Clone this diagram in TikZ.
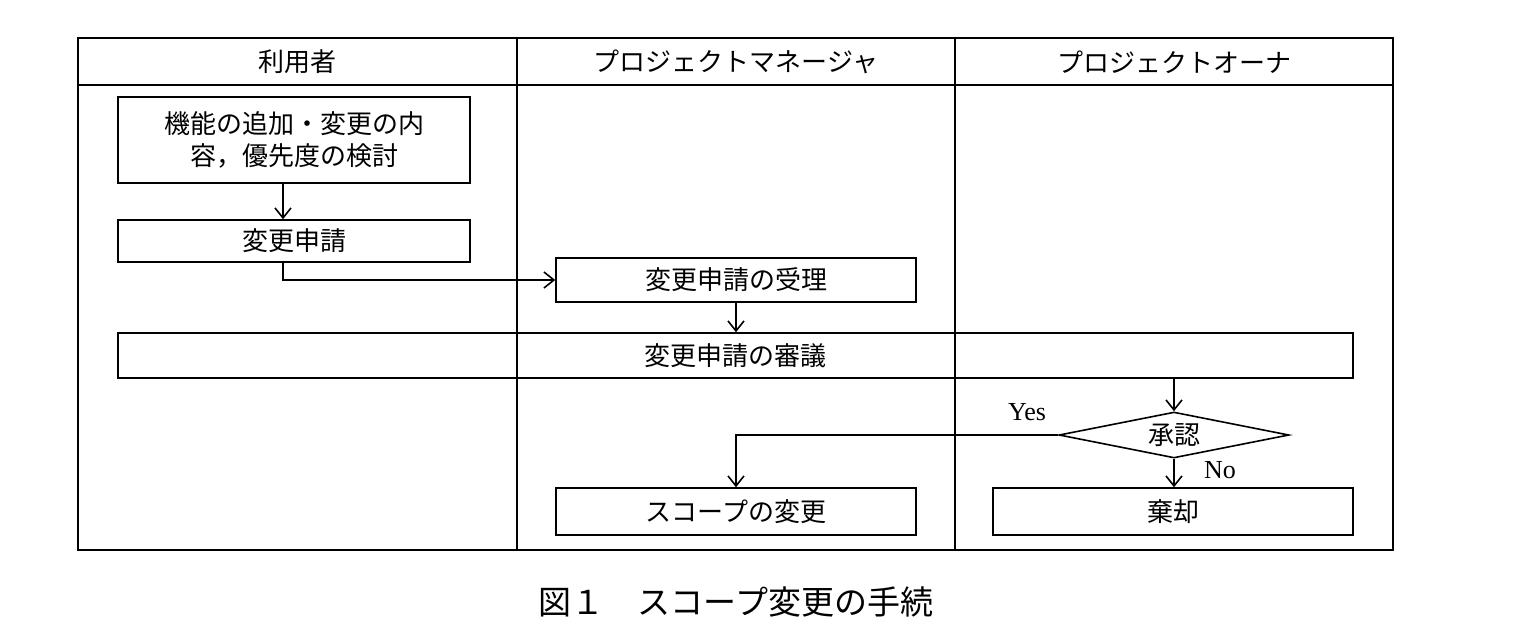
\documentclass[tikz,border=0pt]{standalone}
\usepackage{fontspec}
\setmainfont{Liberation Serif}
\newfontfamily\jp{Noto Sans CJK JP}
\usetikzlibrary{arrows.meta,shapes.geometric}

\tikzset{
  step box/.style={draw, thick, inner sep=0pt, font=\jp\fontsize{13}{16}\selectfont, align=center},
  flow/.style={thick, -{Straight Barb[length=5pt,width=8pt]}},
}

\begin{document}
\begin{tikzpicture}[x=0.5pt, y=-0.5pt]

    \useasboundingbox (0,0) rectangle (1520,634);

    % LANES
    \draw[thick] (78,38) rectangle (1393,550);
    \draw[thick] (78,85) -- (1393,85);
    \draw[thick] (517,38) -- (517,550);
    \draw[thick] (955,38) -- (955,550);

    % HEADERS
    \node[font=\jp\fontsize{13}{16}\selectfont] (hUser) at (297,62) {利用者};
    \node[font=\jp\fontsize{13}{16}\selectfont] (hPM) at (736,62) {プロジェクトマネージャ};
    \node[font=\jp\fontsize{13}{16}\selectfont] (hPO) at (1174,62) {プロジェクトオーナ};

    % STEPS
    \node[step box, minimum width=176pt, minimum height=43pt] (study) at (294,140) {機能の追加・変更の内\\容，優先度の検討};
    \node[step box, minimum width=176pt, minimum height=21pt] (request) at (294,241) {変更申請};
    \node[step box, minimum width=180pt, minimum height=22pt] (accept) at (736,280) {変更申請の受理};
    \node[step box, minimum width=617.5pt, minimum height=22.5pt] (review) at (735.5,355.5) {変更申請の審議};
    \node[draw, thick, diamond, aspect=5, minimum width=115pt, minimum height=23pt, inner sep=0pt,
          font=\jp\fontsize{13}{16}\selectfont] (approve) at (1174,435) {承認};
    \node[step box, minimum width=180pt, minimum height=23.5pt] (scope) at (736,511.5) {スコープの変更};
    \node[step box, minimum width=180pt, minimum height=23.5pt] (reject) at (1173,511.5) {棄却};

    % CONNECTORS
    \coordinate (userX) at (283,0);
    \draw[flow] (study.south -| userX) -- (request.north -| userX);
    \draw[flow] (request.south -| userX) |- (accept.west);
    \draw[flow] (accept.south) -- (review.north -| accept.south);
    \draw[flow] (review.south -| approve.north) -- (approve.north);
    \draw[flow] (approve.west) -| (scope.north);
    \draw[flow] (approve.south) -- (reject.north -| approve.south);

    % LABELS
    \node[font=\fontsize{13}{15}\selectfont] (yes) at (1027,412) {Yes};
    \node[font=\fontsize{13}{15}\selectfont] (no) at (1220,470) {No};

    % CAPTION
    \node[font=\jp\fontsize{16.5}{20}\selectfont] (caption) at (736,602) {図１\quad スコープ変更の手続};

\end{tikzpicture}
\end{document}
